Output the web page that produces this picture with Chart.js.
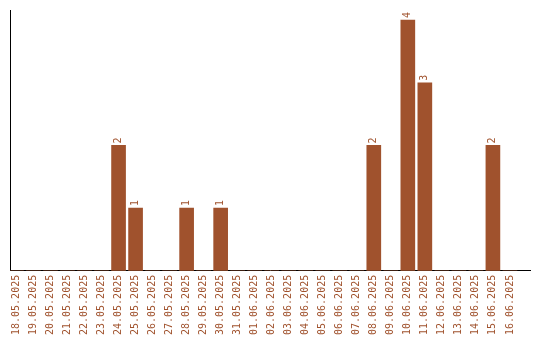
<!DOCTYPE html>
<html>
<head>
<meta charset="utf-8">
<script src="https://cdn.jsdelivr.net/npm/chart.js@4"></script>
<style>
  html, body { margin: 0; padding: 0; background: #fff; }
  #wrap { width: 540px; height: 340px; }
</style>
</head>
<body>
<div id="wrap"><canvas id="barChart"></canvas></div>
<script>
// one bar per day
const dates = [
  "18.05.2025", "19.05.2025", "20.05.2025", "21.05.2025", "22.05.2025",
  "23.05.2025", "24.05.2025", "25.05.2025", "26.05.2025", "27.05.2025",
  "28.05.2025", "29.05.2025", "30.05.2025", "31.05.2025", "01.06.2025",
  "02.06.2025", "03.06.2025", "04.06.2025", "05.06.2025", "06.06.2025",
  "07.06.2025", "08.06.2025", "09.06.2025", "10.06.2025", "11.06.2025",
  "12.06.2025", "13.06.2025", "14.06.2025", "15.06.2025", "16.06.2025"
];
const counts = [
  0, 0, 0, 0, 0,
  0, 2, 1, 0, 0,
  1, 0, 1, 0, 0,
  0, 0, 0, 0, 0,
  0, 2, 0, 4, 3,
  0, 0, 0, 2, 0
];

const barColor = "#a0522d";
const monoFont = { family: "'DejaVu Sans Mono', monospace", size: 10 };

// value above each bar, turned like the axis labels
const valueLabels = {
  id: "valueLabels",
  afterDatasetsDraw(chart) {
    const ctx = chart.ctx;
    const meta = chart.getDatasetMeta(0);
    ctx.save();
    ctx.fillStyle = barColor;
    ctx.font = "10px 'DejaVu Sans Mono', monospace";
    ctx.textAlign = "left";
    ctx.textBaseline = "middle";
    meta.data.forEach((bar, i) => {
      if (!counts[i]) return;
      ctx.save();
      ctx.translate(bar.x, bar.y - 2);
      ctx.rotate(-Math.PI / 2);
      ctx.fillText(String(counts[i]), 0, 0);
      ctx.restore();
    });
    ctx.restore();
  }
};

const ctx = document.getElementById("barChart").getContext("2d");
new Chart(ctx, {
  type: "bar",
  data: {
    datasets: [
      {
        data: counts.map((v, i) => ({ x: i, y: v })),
        backgroundColor: barColor,
        borderWidth: 0,
        barThickness: 14,
      },
    ],
  },
  options: {
    responsive: true,
    maintainAspectRatio: false,
    animation: false,
    layout: { padding: { top: 10, right: 10, left: 10, bottom: 1 } },
    plugins: {
      legend: { display: false },
      tooltip: { enabled: false },
    },
    scales: {
      x: {
        type: "linear",
        min: -0.38,
        max: 30.18,
        offset: false,
        grid: { display: false, drawTicks: false },
        border: { display: true, color: "#000", width: 1 },
        afterBuildTicks: (scale) => {
          scale.ticks = dates.map((d, i) => ({ value: i }));
        },
        ticks: {
          stepSize: 1,
          autoSkip: false,
          includeBounds: false,
          minRotation: 90,
          maxRotation: 90,
          padding: 4,
          color: barColor,
          font: monoFont,
          callback: (value) => dates[value] || "",
        },
      },
      y: {
        min: 0,
        max: 4.16,
        grid: { display: false, drawTicks: false },
        border: { display: true, color: "#000", width: 1 },
        ticks: { display: false },
      },
    },
  },
  plugins: [valueLabels],
});
</script>
</body>
</html>
